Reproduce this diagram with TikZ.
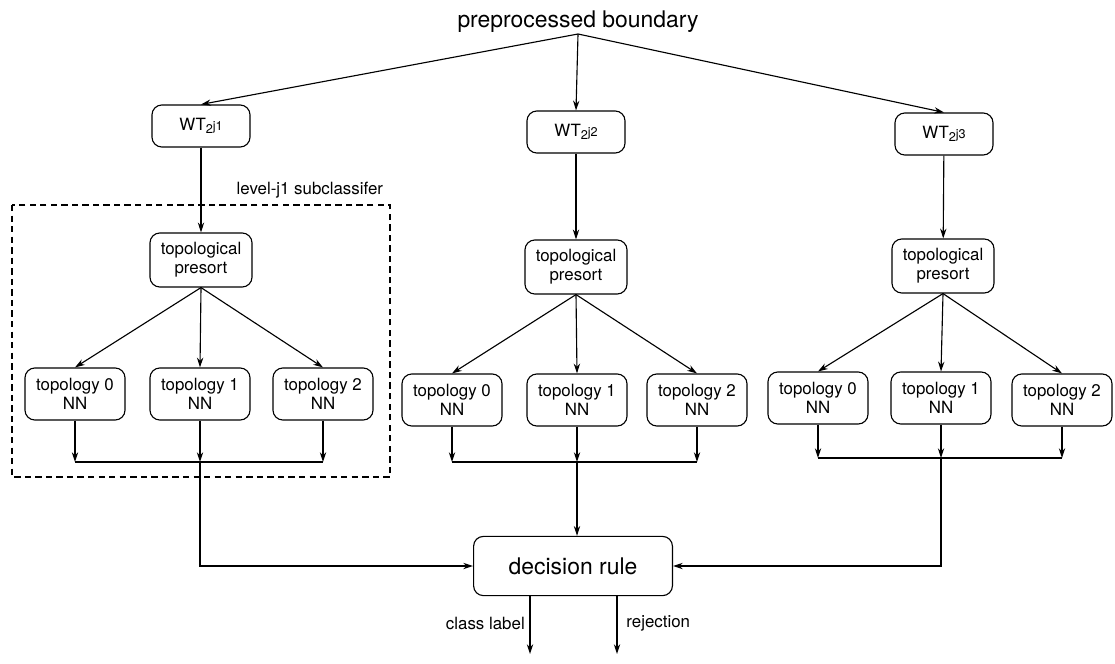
\documentclass[tikz,border=0pt]{standalone}
\usepackage{fontspec}
\setmainfont{TeX Gyre Heros}
\usepackage{tikz}
\usetikzlibrary{arrows.meta}

\tikzset{
  box/.style={draw, rounded corners=7pt, align=center, inner sep=2pt,
    font=\fontsize{12}{13.5}\selectfont},
  wtbox/.style={box, minimum width=2.45cm, minimum height=1.05cm},
  psbox/.style={box, minimum width=2.55cm, minimum height=1.35cm},
  nnbox/.style={box, minimum width=2.5cm, minimum height=1.3cm},
  rulebox/.style={box, minimum width=4.97cm, minimum height=1.48cm,
    font=\fontsize{16.3}{18}\selectfont},
  lbl/.style={font=\fontsize{12}{13.5}\selectfont}
}
\newcommand{\wt}[1]{WT{\fontsize{9}{9}\selectfont\raisebox{-0.55ex}{2}\raisebox{-0.1ex}{j#1}}}

\begin{document}
\begin{tikzpicture}[x=0.025cm, y=-0.025cm, line width=0.8pt,
  >={Stealth[length=7pt,width=4.5pt]}]
              \useasboundingbox (0,0) rectangle (1115,663);

              \node[anchor=south, inner sep=1pt, font=\fontsize{16.3}{18}\selectfont] (pb) at (578,34) {preprocessed boundary};

              \node[wtbox] (wt1) at (201,126) {\wt{1}};
              \node[wtbox] (wt2) at (576,132) {\wt{2}};
              \node[wtbox] (wt3) at (944,134) {\wt{3}};

              \draw[->] (pb.south) -- (wt1.north);
              \draw[->] (pb.south) -- (wt2.north);
              \draw[->] (pb.south) -- (wt3.north);

              % left subclassifier
              \node[psbox] (ps1) at (201,260) {topological\\presort};
              \node[nnbox] (t10) at (75,394) {topology 0\\NN};
              \node[nnbox] (t11) at (200,394) {topology 1\\NN};
              \node[nnbox] (t12) at (323,394) {topology 2\\NN};
              \coordinate (bus1) at (200,462);

              % middle subclassifier
              \node[psbox] (ps2) at (576,267) {topological\\presort};
              \node[nnbox] (t20) at (452,400) {topology 0\\NN};
              \node[nnbox] (t21) at (577,400) {topology 1\\NN};
              \node[nnbox] (t22) at (697,400) {topology 2\\NN};
              \coordinate (bus2) at (577,462);

              % right subclassifier
              \node[psbox] (ps3) at (943,266) {topological\\presort};
              \node[nnbox] (t30) at (818,398) {topology 0\\NN};
              \node[nnbox] (t31) at (941,398) {topology 1\\NN};
              \node[nnbox] (t32) at (1062,400) {topology 2\\NN};
              \coordinate (bus3) at (941,458);

              \draw[->] (wt1) -- (ps1);
              \draw[->] (wt2) -- (ps2);
              \draw[->] (wt3) -- (ps3);

              \draw[->] (ps1.south) -- (t10.north);
              \draw[->] (ps1.south) -- (t11.north);
              \draw[->] (ps1.south) -- (t12.north);
              \draw[->] (ps2.south) -- (t20.north);
              \draw[->] (ps2.south) -- (t21.north);
              \draw[->] (ps2.south) -- (t22.north);
              \draw[->] (ps3.south) -- (t30.north);
              \draw[->] (ps3.south) -- (t31.north);
              \draw[->] (ps3.south) -- (t32.north);

              \draw[->] (t10) -- (t10 |- bus1);
              \draw[->] (t11) -- (bus1);
              \draw[->] (t12) -- (t12 |- bus1);
              \draw (t10 |- bus1) -- (t12 |- bus1);
              \draw[->] (t20) -- (t20 |- bus2);
              \draw[->] (t21) -- (bus2);
              \draw[->] (t22) -- (t22 |- bus2);
              \draw (t20 |- bus2) -- (t22 |- bus2);
              \draw[->] (t30) -- (t30 |- bus3);
              \draw[->] (t31) -- (bus3);
              \draw[->] (t32) -- (t32 |- bus3);
              \draw (t30 |- bus3) -- (t32 |- bus3);

              \draw[dashed, dash pattern=on 4.5pt off 3pt] (12,205) rectangle (390,477);
              \node[lbl, anchor=south east, inner sep=1pt] (sub) at (385,200) {level-j1 subclassifer};

              \node[rulebox] (dr) at (573,566) {decision rule};

              \draw[->] (bus1) |- (dr);
              \draw[->] (bus2) -- (bus2 |- dr.north);
              \draw[->] (bus3) |- (dr);

              \coordinate (cl) at (530,654);
              \coordinate (rj) at (617,654);
              \draw[->] (dr.south -| cl) -- node[lbl, left, pos=0.47] {class label} (cl);
              \draw[->] (dr.south -| rj) -- node[lbl, right=3pt, pos=0.47] {rejection} (rj);
            \end{tikzpicture}
\end{document}
